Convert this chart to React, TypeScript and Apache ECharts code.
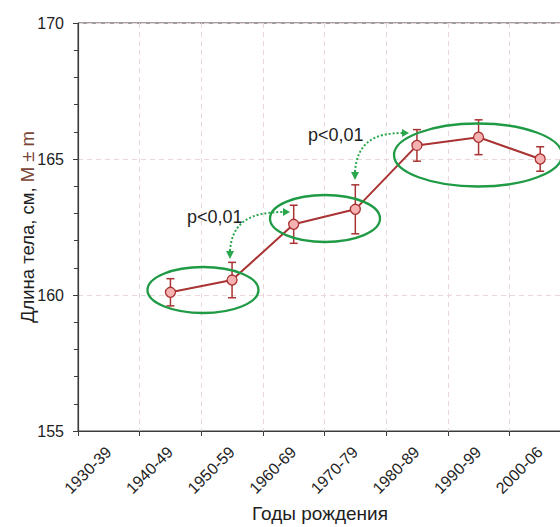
import React, { useEffect, useRef } from "react";
import * as echarts from "echarts";

// Tick labels on the x axis (boundaries of decades)
const categories = ["1930-39", "1940-49", "1950-59", "1960-69", "1970-79", "1980-89", "1990-99", "2000-06"];
// Groups that have a measurement (plotted at the middle of their decade band)
const groups = ["1940-49", "1950-59", "1960-69", "1970-79", "1980-89", "1990-99", "2000-06"];
// Mean body length, cm
const means = [160.1, 160.55, 162.6, 163.15, 165.5, 165.8, 165.0];
// Standard error m
const errors = [0.5, 0.65, 0.7, 0.9, 0.58, 0.64, 0.45];
// y axis
const yMin = 155;
const yMax = 170;
const yStep = 5;

const FONT = "'Liberation Sans', Arial, sans-serif";
const RED = "#a93232";
const GREEN = "#1f9a45";
const GREEN_DOT = "#2aa64c";

export default function App() {
  const ref = useRef<HTMLDivElement>(null);

  useEffect(() => {
    if (!ref.current) return;
    const chart = echarts.init(ref.current, undefined, { renderer: "svg" });

    const xs = groups.map((g) => categories.indexOf(g) + 0.5);
    const lineData = means.map((m, i) => [xs[i], m]);
    const errData = means.map((m, i) => [xs[i], m - errors[i], m + errors[i]]);

    const option: any = {
      animation: false,
      backgroundColor: "#ffffff",
      textStyle: { fontFamily: FONT },
      grid: {
        left: 78,
        top: 23,
        width: 493,
        height: 408,
        show: true,
        borderColor: "#3c3c3c",
        borderWidth: 1,
        backgroundColor: "transparent",
        containLabel: false,
        outerBoundsMode: "none",
      },
      xAxis: {
        type: "value",
        min: 0,
        max: categories.length,
        interval: 1,
        name: "Годы рождения",
        nameLocation: "middle",
        nameGap: 73,
        nameMoveOverlap: false,
        nameTextStyle: { fontSize: 19, color: "#1e1e1e", fontFamily: FONT, padding: [0, 9, 0, 0] },
        axisLine: { show: true, onZero: false, lineStyle: { color: "#3c3c3c", width: 1.2 } },
        axisTick: { show: true, length: 5, lineStyle: { color: "#3c3c3c" } },
        axisLabel: {
          formatter: (v: number) => categories[Math.round(v)] ?? "",
          rotate: 45,
          align: "center",
          verticalAlign: "middle",
          margin: 49,
          padding: [0, 0, 0, 28],
          fontSize: 16,
          color: "#222",
          fontFamily: FONT,
          showMaxLabel: false,
        },
        splitLine: { show: true, lineStyle: { color: "#ead8d8", type: [5, 4], width: 1 } },
      },
      yAxis: {
        type: "value",
        min: yMin,
        max: yMax,
        interval: yStep,
        name: "{a|Длина тела, см,} {b|M ± m}",
        nameLocation: "middle",
        nameGap: 41,
        nameMoveOverlap: false,
        nameTextStyle: {
          fontSize: 18.5,
          color: "#1e1e1e",
          fontFamily: FONT,
          rich: {
            a: { fontSize: 18.5, color: "#1e1e1e", fontFamily: FONT },
            b: { fontSize: 18.5, color: "#7a4536", fontFamily: FONT },
          },
        },
        axisLine: { show: true, lineStyle: { color: "#3c3c3c", width: 1.2 } },
        axisTick: { show: true, length: 5, lineStyle: { color: "#3c3c3c" } },
        minorTick: { show: true, splitNumber: 5, length: 4, lineStyle: { color: "#3c3c3c" } },
        axisLabel: { fontSize: 16, color: "#222", margin: 14, fontFamily: FONT },
        splitLine: { show: true, lineStyle: { color: "#ead8d8", type: [5, 4], width: 1 } },
      },
      series: [
        {
          type: "custom",
          name: "m",
          z: 1,
          clip: false,
          encode: { x: 0, y: [1, 2] },
          data: errData,
          renderItem: (params: any, api: any) => {
            const x = api.value(0);
            const lo = api.coord([x, api.value(1)]);
            const hi = api.coord([x, api.value(2)]);
            const hw = 4;
            const style = { stroke: RED, lineWidth: 1.5 };
            return {
              type: "group",
              children: [
                { type: "line", shape: { x1: hi[0], y1: hi[1], x2: lo[0], y2: lo[1] }, style },
                { type: "line", shape: { x1: hi[0] - hw, y1: hi[1], x2: hi[0] + hw, y2: hi[1] }, style },
                { type: "line", shape: { x1: lo[0] - hw, y1: lo[1], x2: lo[0] + hw, y2: lo[1] }, style },
              ],
            };
          },
        },
        {
          type: "line",
          name: "M",
          z: 3,
          data: lineData,
          symbol: "circle",
          symbolSize: 10,
          lineStyle: { color: RED, width: 2 },
          itemStyle: { color: "#f6b1b1", borderColor: RED, borderWidth: 1.3 },
        },
      ],
      graphic: [
        { type: "ellipse", z: 10, shape: { cx: 203, cy: 290, rx: 55.5, ry: 23 }, style: { fill: "none", stroke: GREEN, lineWidth: 2.3 } },
        { type: "ellipse", z: 10, shape: { cx: 325, cy: 218.5, rx: 55, ry: 23.5 }, style: { fill: "none", stroke: GREEN, lineWidth: 2.3 } },
        { type: "ellipse", z: 10, shape: { cx: 478, cy: 155, rx: 84, ry: 31.5 }, style: { fill: "none", stroke: GREEN, lineWidth: 2.3 } },
        {
          type: "bezierCurve",
          z: 10,
          shape: { x1: 230, y1: 251, cpx1: 232, cpy1: 222, cpx2: 250, cpy2: 212, x2: 284, y2: 212 },
          style: { fill: "none", stroke: GREEN_DOT, lineWidth: 2, lineDash: [2, 2] },
        },
        { type: "polygon", z: 10, shape: { points: [[226, 251], [234, 251], [230, 259]] }, style: { fill: GREEN_DOT } },
        { type: "polygon", z: 10, shape: { points: [[283, 208], [283, 216], [290, 212]] }, style: { fill: GREEN_DOT } },
        {
          type: "bezierCurve",
          z: 10,
          shape: { x1: 355, y1: 172, cpx1: 357, cpy1: 142, cpx2: 375, cpy2: 133, x2: 402, y2: 133 },
          style: { fill: "none", stroke: GREEN_DOT, lineWidth: 2, lineDash: [2, 2] },
        },
        { type: "polygon", z: 10, shape: { points: [[351, 172], [359, 172], [355, 180]] }, style: { fill: GREEN_DOT } },
        { type: "polygon", z: 10, shape: { points: [[402, 129], [402, 137], [409, 133]] }, style: { fill: GREEN_DOT } },
        {
          type: "text",
          z: 10,
          x: 187,
          y: 217,
          style: { text: "p<0,01", fontSize: 18, fill: "#1e1e1e", fontFamily: FONT, verticalAlign: "middle", align: "left" },
        },
        {
          type: "text",
          z: 10,
          x: 308,
          y: 135,
          style: { text: "p<0,01", fontSize: 18, fill: "#1e1e1e", fontFamily: FONT, verticalAlign: "middle", align: "left" },
        },
      ],
    };

    chart.setOption(option);
    return () => chart.dispose();
  }, []);

  return (
    <div
      ref={ref}
      style={{ position: "fixed", left: 0, top: 0, width: 560, height: 527, background: "#fff" }}
    />
  );
}
